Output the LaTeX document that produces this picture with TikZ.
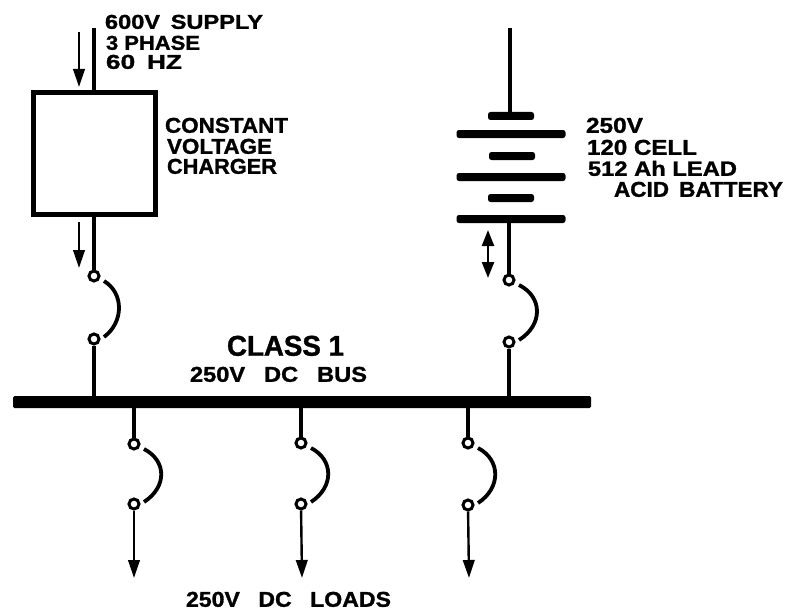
\documentclass[tikz,border=0pt]{standalone}
\usepackage{fontspec}
\usepackage{graphicx}
\setmainfont[BoldFeatures={FakeBold=1.2}]{Liberation Sans}
\usetikzlibrary{arrows.meta,calc}
\tikzset{
  wire/.style={line width=3.2pt},
  flow/.style={line width=2.4pt,-{Triangle[length=18pt,width=11.5pt]}},
  bothflow/.style={line width=2.4pt,{Triangle[length=16pt,width=12pt]}-{Triangle[length=16pt,width=12pt]}},
  swarc/.style={line width=3.8pt},
  term/.style={circle,draw,fill=white,line width=3pt,minimum size=10pt,inner sep=0pt},
  chargerbox/.style={draw,line width=5pt,fill=white,minimum width=122pt,minimum height=122pt,inner sep=0pt},
  busbar/.style={fill=black,rounded corners=1.5pt,minimum width=578pt,minimum height=12pt,inner sep=0pt},
  longplate/.style={fill=black,rounded corners=2.5pt,minimum width=109pt,minimum height=8pt,inner sep=0pt},
  shortplate/.style={fill=black,rounded corners=2.5pt,minimum width=46pt,minimum height=8pt,inner sep=0pt},
  lab/.style={anchor=south west,inner sep=0pt,outer sep=0pt}
}
\newcommand{\lbl}[3]{\resizebox{#1pt}{#2pt}{\bfseries #3}}
\newcommand{\switcharc}[3]{\draw[swarc] ($(#1)+(10,5)$) .. controls ($(#1)+(#3,17)$) and ($(#2)+(#3,-17)$) .. ($(#2)+(10,-2)$);}
\begin{document}
\begin{tikzpicture}[x=1pt,y=-1pt]
\useasboundingbox[fill=white] (0,0) rectangle (788,610);
% charger branch
\node[chargerbox] (charger) at (94,153.5) {};
\coordinate (supply) at (94,28);
\coordinate (inA) at (79,32);
\coordinate (inB) at (79,87);
\coordinate (outA) at (79,222);
\coordinate (outB) at (79,268);
\node[term] (t1) at (94,276) {};
\node[term] (t2) at (94,339) {};
% battery
\coordinate (battop) at (510,28);
\node[shortplate] (p1) at (511,116) {};
\node[longplate] (p2) at (511,134) {};
\node[shortplate] (p3) at (512,156) {};
\node[longplate] (p4) at (511,177) {};
\node[shortplate] (p5) at (511,198) {};
\node[longplate] (p6) at (511,219) {};
\coordinate (dblA) at (488,230);
\coordinate (dblB) at (488,278);
\node[term] (t3) at (509,280) {};
\node[term] (t4) at (509,342) {};
% bus
\node[busbar] (bus) at (302,402) {};
% load branches
\node[term] (a1) at (134,444) {};
\node[term] (a2) at (134,504) {};
\node[term] (b1) at (301,443) {};
\node[term] (b2) at (301,504) {};
\node[term] (c1) at (468,443) {};
\node[term] (c2) at (468,505) {};
\coordinate (la) at (134,578);
\coordinate (lb) at (302,578);
\coordinate (lc) at (469,578);
% connectors
\draw[wire] (supply) -- (charger.north -| supply);
\draw[flow] (inA) -- (inB);
\draw[wire] (charger.south -| t1) -- (t1);
\draw[flow] (outA) -- (outB);
\draw[wire] (t2) -- (bus.center -| t2);
\draw[wire] (battop) -- (p1.center -| battop);
\draw[wire] (p6.center -| t3) -- (t3);
\draw[bothflow] (dblA) -- (dblB);
\draw[wire] (t4) -- (bus.center -| t4);
\draw[wire] (bus.center -| a1) -- (a1);
\draw[wire] (bus.center -| b1) -- (b1);
\draw[wire] (bus.center -| c1) -- (c1);
\draw[flow] (a2) -- (la);
\draw[flow] (b2) -- (lb);
\draw[flow] (c2) -- (lc);
\switcharc{t1}{t2}{30}
\switcharc{t3}{t4}{34}
\switcharc{a1}{a2}{33}
\switcharc{b1}{b2}{33}
\switcharc{c1}{c2}{33}
% text
\node[lab] (s1) at (105,29) {\lbl{158}{14}{600V\hspace{.45em}SUPPLY}};
\node[lab] (s2) at (106,50) {\lbl{94}{14}{3 PHASE}};
\node[lab] (s3) at (106,69) {\lbl{76}{14}{60\hspace{.45em}HZ}};
\node[lab] (c1t) at (165,133) {\lbl{123}{15}{CONSTANT}};
\node[lab] (c2t) at (167,154) {\lbl{105}{15}{VOLTAGE}};
\node[lab] (c3t) at (167,174) {\lbl{110}{15}{CHARGER}};
\node[lab] (b1t) at (586,133) {\lbl{57}{15}{250V}};
\node[lab] (b2t) at (587,155) {\lbl{110}{15}{120 CELL}};
\node[lab] (b3t) at (588,176) {\lbl{149}{15}{512 Ah LEAD}};
\node[lab] (b4t) at (614,197) {\lbl{169}{15}{ACID\hspace{.45em}BATTERY}};
\node[lab] (d1) at (227,356) {\lbl{117}{20}{CLASS 1}};
\node[lab] (d2) at (190,382) {\lbl{177}{15}{250V\hspace{.8em}DC\hspace{.8em}BUS}};
\node[lab] (d3) at (186,607) {\lbl{205}{15}{250V\hspace{.8em}DC\hspace{.8em}LOADS}};
\end{tikzpicture}
\end{document}
